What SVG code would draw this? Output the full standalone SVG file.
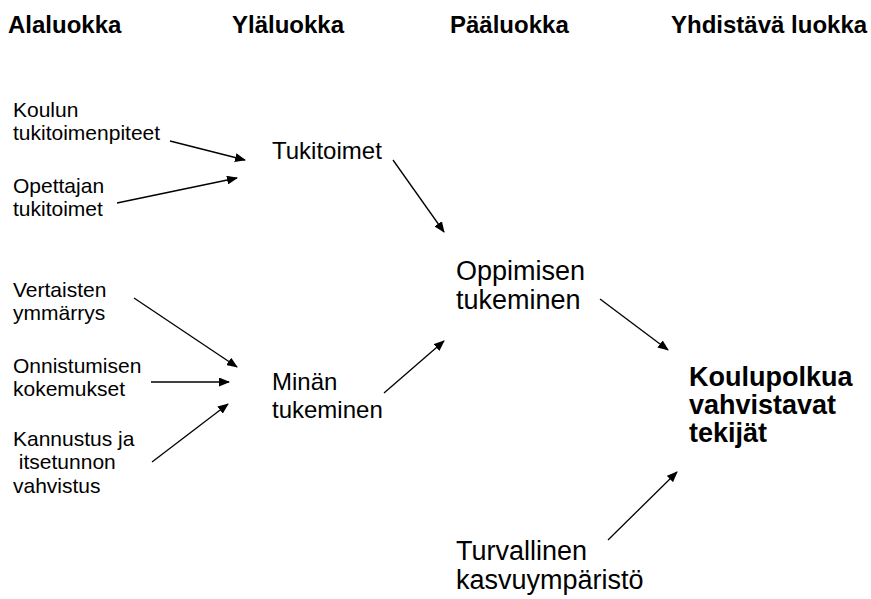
<svg xmlns="http://www.w3.org/2000/svg" width="871" height="599" viewBox="0 0 871 599">
<style>
text{font-family:"Liberation Sans",Arial,sans-serif;fill:#000}
.h{font-size:24px;font-weight:bold}
.s{font-size:21px}
.m{font-size:24px}
.l{font-size:27px}
.b{font-size:27px;font-weight:bold}
.c line{stroke:#000;stroke-width:1.3;marker-end:url(#ah)}
</style>
<defs>
<marker id="ah" markerUnits="userSpaceOnUse" markerWidth="11" markerHeight="9" refX="10" refY="4.5" orient="auto">
<path d="M0,0 L11,4.5 L0,9 Z" fill="#000"/>
</marker>
</defs>
<rect width="871" height="599" fill="#fff"/>
<g id="headers">
<text class="h" x="8" y="33">Alaluokka</text>
<text class="h" x="232" y="33">Yläluokka</text>
<text class="h" x="450" y="33">Pääluokka</text>
<text class="h" x="671" y="33">Yhdistävä luokka</text>
</g>
<g id="koulun"><text class="s" x="13" y="117">Koulun</text><text class="s" x="13" y="140">tukitoimenpiteet</text></g>
<g id="opettajan"><text class="s" x="13" y="193">Opettajan</text><text class="s" x="13" y="216">tukitoimet</text></g>
<g id="vertaisten"><text class="s" x="13" y="297">Vertaisten</text><text class="s" x="13" y="320">ymmärrys</text></g>
<g id="onnistumisen"><text class="s" x="13" y="373">Onnistumisen</text><text class="s" x="13" y="396">kokemukset</text></g>
<g id="kannustus"><text class="s" x="13" y="446">Kannustus ja</text><text class="s" x="13" y="469" xml:space="preserve"> itsetunnon</text><text class="s" x="13" y="493">vahvistus</text></g>
<g id="tukitoimet"><text class="m" x="272" y="159">Tukitoimet</text></g>
<g id="minan"><text class="m" x="272" y="390">Minän</text><text class="m" x="272" y="418">tukeminen</text></g>
<g id="oppimisen"><text class="l" x="456" y="280">Oppimisen</text><text class="l" x="456" y="309">tukeminen</text></g>
<g id="koulupolkua"><text class="b" x="689" y="386">Koulupolkua</text><text class="b" x="689" y="414">vahvistavat</text><text class="b" x="689" y="442">tekijät</text></g>
<g id="turvallinen"><text class="l" x="456" y="560">Turvallinen</text><text class="l" x="456" y="589">kasvuympäristö</text></g>
<g id="connectors" class="c">
<line x1="170" y1="141" x2="245" y2="160"/>
<line x1="117" y1="203" x2="237" y2="178"/>
<line x1="134" y1="298" x2="237" y2="367"/>
<line x1="151" y1="382" x2="229" y2="382"/>
<line x1="152" y1="462" x2="228" y2="404"/>
<line x1="393" y1="160" x2="444" y2="232"/>
<line x1="384" y1="393" x2="444" y2="341"/>
<line x1="600" y1="299" x2="668" y2="350"/>
<line x1="608" y1="540" x2="677" y2="472"/>
</g>
</svg>
